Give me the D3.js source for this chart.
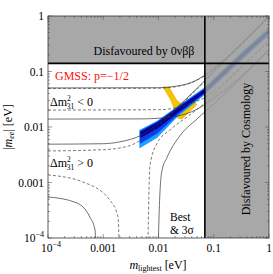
<!DOCTYPE html>
<html>
<head>
<meta charset="utf-8">
<script src="https://cdn.jsdelivr.net/npm/d3@7"></script>
<style>
  body { margin: 0; background: #fff; }
  svg { display: block; }
</style>
</head>
<body>
<main></main>
<script>
var w = 273;
var h = 274;

// axis ticks
var xTicks = [1e-4, 1e-3, 1e-2, 1e-1, 1];
var yTicks = [1e-4, 1e-3, 1e-2, 1e-1, 1];
var tickLabels = ["10|-4", "0.001", "0.01", "0.1", "1"];

// bounds (eV)
var bound0nbb = 0.14;
var boundCosmo = 0.069;

// normal ordering curves [m_lightest, |m_ee|]
var noUpper3s = [[1e-4,0.0049],[0.001,0.0050],[0.002,0.0054],[0.005,0.0072],[0.01,0.0115],[0.02,0.021],[0.05,0.050],[0.1,0.099],[1,0.99]];
var noUpperBest = [[1e-4,0.0037],[0.001,0.0039],[0.003,0.0046],[0.005,0.0060],[0.01,0.0105],[0.02,0.020],[0.05,0.048],[0.1,0.097],[1,0.97]];
var noLowerBestL = [[1e-4,0.00137],[0.00043,0.00102],[0.00132,0.00048],[0.00185,0.00024],[0.00196,0.00005]];
var noLower3sL = [[1e-4,0.00055],[0.00033,0.00043],[0.00057,0.00024],[0.00071,0.00014],[0.00074,0.00005]];
var noLowerBestR = [[0.0064,0.00005],[0.0066,0.0003],[0.0070,0.0020],[0.0093,0.0050],[0.016,0.0088],[0.037,0.0165],[0.069,0.027],[0.2,0.075],[1,0.36]];
var noLower3sR = [[0.0098,0.00005],[0.0104,0.0004],[0.0115,0.0016],[0.0142,0.0028],[0.024,0.0068],[0.05,0.014],[0.1,0.026],[0.3,0.074],[1,0.25]];

// inverted ordering curves
var ioUpper3s = [[1e-4,0.0505],[0.01,0.051],[0.02,0.054],[0.04,0.064],[0.069,0.086],[0.15,0.16],[0.4,0.40],[1,0.99]];
var ioUpperBest = [[1e-4,0.0495],[0.01,0.050],[0.02,0.053],[0.04,0.063],[0.069,0.084],[0.15,0.155],[0.4,0.39],[1,0.97]];
var ioLowerBest = [[1e-4,0.0202],[0.01,0.0205],[0.02,0.022],[0.04,0.027],[0.069,0.034],[0.15,0.062],[0.4,0.15],[1,0.36]];
var ioLower3s = [[1e-4,0.0139],[0.005,0.014],[0.02,0.0155],[0.05,0.021],[0.1,0.033],[0.3,0.078],[1,0.25]];

// GMSS p=-1/2 prediction
var bandOuter = [[0.0045,0.0088],[0.0095,0.0130],[0.0224,0.0240],[0.069,0.052],[0.3,0.21],[1,0.62],
                 [1,0.45],[0.3,0.15],[0.069,0.038],[0.0224,0.0155],[0.0095,0.0064],[0.0045,0.0041]];
var bandMid = [[0.0046,0.0085],[0.0095,0.0125],[0.0224,0.0232],[0.069,0.050],[0.3,0.2],[1,0.58],
               [1,0.48],[0.3,0.16],[0.069,0.040],[0.0224,0.0166],[0.0095,0.0076],[0.0046,0.0050]];
var bandCore = [[0.0047,0.0082],[0.0095,0.0120],[0.0224,0.0222],[0.069,0.048],[0.3,0.19],[1,0.55],
                [1,0.51],[0.3,0.17],[0.069,0.042],[0.0224,0.0180],[0.0095,0.0093],[0.0047,0.0064]];
var yellowRegion = [[0.01216,0.0526],[0.01542,0.0526],[0.02125,0.0306],[0.0254,0.0262],[0.0455,0.0290],
                    [0.0489,0.0250],[0.0344,0.0180],[0.0268,0.0140],[0.0221,0.0145],[0.0198,0.0200],[0.0168,0.0300]];

var pL = 48, pR = 269, pT = 16, pB = 238;
var serif = "'Liberation Serif', 'Times New Roman', 'DejaVu Serif', serif";

var svg = d3.select("main").append("svg")
  .attr("width", w).attr("height", h)
  .attr("font-family", serif);

var xScale = d3.scaleLog().domain([1e-4, 1]).range([pL, pR]);
var yScale = d3.scaleLog().domain([1e-4, 1]).range([pB, pT]);

svg.append("clipPath").attr("id", "clip")
  .append("rect").attr("x", pL).attr("y", pT)
  .attr("width", pR - pL).attr("height", pB - pT);

var plot = svg.append("g").attr("clip-path", "url(#clip)");

var poly = d3.line()
  .x(function (d) { return xScale(d[0]); })
  .y(function (d) { return yScale(d[1]); });

var curve = d3.line()
  .curve(d3.curveMonotoneX)
  .x(function (d) { return xScale(d[0]); })
  .y(function (d) { return yScale(d[1]); });

// prediction regions
plot.append("path").attr("d", poly(yellowRegion) + "Z")
  .attr("fill", "#f6c400").attr("stroke", "#e8a800").attr("stroke-width", 0.6);
plot.append("path").attr("d", poly(bandOuter) + "Z").attr("fill", "#1ea0ff");
plot.append("path").attr("d", poly(bandMid) + "Z").attr("fill", "#0b3cf0");
plot.append("path").attr("d", poly(bandCore) + "Z").attr("fill", "#000096");

// ordering lines
var solid = [noUpper3s, noLower3sL, noLower3sR, ioUpper3s, ioLower3s];
var dashed = [noUpperBest, noLowerBestL, noLowerBestR, ioUpperBest, ioLowerBest];

solid.forEach(function (s) {
  plot.append("path").attr("d", curve(s))
    .attr("fill", "none").attr("stroke", "#333").attr("stroke-width", 0.7);
});
dashed.forEach(function (s) {
  plot.append("path").attr("d", curve(s))
    .attr("fill", "none").attr("stroke", "#444").attr("stroke-width", 0.7)
    .attr("stroke-dasharray", "3,2");
});

// disfavoured regions
plot.append("rect")
  .attr("x", pL).attr("y", pT)
  .attr("width", xScale(boundCosmo) - pL).attr("height", yScale(bound0nbb) - pT)
  .attr("fill", "#999").attr("fill-opacity", 0.85);
plot.append("rect")
  .attr("x", xScale(boundCosmo)).attr("y", pT)
  .attr("width", pR - xScale(boundCosmo)).attr("height", pB - pT)
  .attr("fill", "#999").attr("fill-opacity", 0.85);

plot.append("line")
  .attr("x1", pL).attr("x2", pR)
  .attr("y1", yScale(bound0nbb)).attr("y2", yScale(bound0nbb))
  .attr("stroke", "#000").attr("stroke-width", 1.6);
plot.append("line")
  .attr("x1", xScale(boundCosmo)).attr("x2", xScale(boundCosmo))
  .attr("y1", pT).attr("y2", pB)
  .attr("stroke", "#000").attr("stroke-width", 1.6);

// AXES (ticks inward on all sides)
var minor = [];
for (var e = -4; e < 0; e++) {
  for (var k = 2; k < 10; k++) minor.push(k * Math.pow(10, e));
}

function ticks(g, isX, pos, dir) {
  var sc = isX ? xScale : yScale;
  xTicks.concat(minor).forEach(function (t, i) {
    var len = i < xTicks.length ? 4 : 2;
    if (isX) {
      g.append("line").attr("x1", sc(t)).attr("x2", sc(t))
        .attr("y1", pos).attr("y2", pos + dir * len);
    } else {
      g.append("line").attr("y1", sc(t)).attr("y2", sc(t))
        .attr("x1", pos).attr("x2", pos + dir * len);
    }
  });
}

var axes = svg.append("g").attr("stroke", "#555").attr("stroke-width", 0.6);
ticks(axes, true, pB, -1);
ticks(axes, true, pT, 1);
ticks(axes, false, pL, 1);
ticks(axes, false, pR, -1);

svg.append("rect")
  .attr("x", pL).attr("y", pT)
  .attr("width", pR - pL).attr("height", pB - pT)
  .attr("fill", "none").attr("stroke", "#333").attr("stroke-width", 0.8);

function label(sel, s) {
  var parts = s.split("|");
  sel.text(parts[0]);
  if (parts[1]) {
    sel.append("tspan").attr("dy", -5).attr("font-size", "8px").text("\u2212" + parts[1].slice(1));
  }
}

xTicks.forEach(function (t, i) {
  var tx = svg.append("text")
    .attr("x", xScale(t) + (i === 0 ? 3 : 0)).attr("y", 252)
    .attr("text-anchor", "middle").attr("font-size", "11.5px");
  label(tx, tickLabels[i]);
});
yTicks.forEach(function (t, i) {
  var ty = svg.append("text")
    .attr("x", 44).attr("y", yScale(t) + 4)
    .attr("text-anchor", "end").attr("font-size", "11.5px");
  label(ty, tickLabels[i]);
});

// axis titles
var xt = svg.append("text").attr("x", 158).attr("y", 269)
  .attr("text-anchor", "middle").attr("font-size", "12px");
xt.append("tspan").attr("font-style", "italic").text("m");
xt.append("tspan").attr("font-size", "8px").attr("dy", 2).text("lightest");
xt.append("tspan").attr("dy", -2).text(" [eV]");

var yt = svg.append("text")
  .attr("transform", "translate(12,127) rotate(-90)")
  .attr("text-anchor", "middle").attr("font-size", "12px");
yt.append("tspan").text("|");
yt.append("tspan").attr("font-style", "italic").text("m");
yt.append("tspan").attr("font-size", "8px").attr("font-style", "italic").attr("dy", 2).text("ee");
yt.append("tspan").attr("dy", -2).text("| [eV]");

// annotations
svg.append("text").attr("x", 144).attr("y", 55)
  .attr("text-anchor", "middle").attr("font-size", "12px")
  .text("Disfavoured by 0\u03bd\u03b2\u03b2");

svg.append("text").attr("x", 55).attr("y", 80)
  .attr("font-size", "12px").attr("fill", "#ff1010")
  .text("GMSS: p=\u22121/2");

function dm(x, y, sign) {
  var t = svg.append("text").attr("x", x).attr("y", y).attr("font-size", "12px");
  t.append("tspan").text("\u0394m");
  t.append("tspan").attr("font-size", "7.5px").attr("dy", -5).text("2");
  t.append("tspan").attr("font-size", "7.5px").attr("dx", -4).attr("dy", 8).text("31");
  t.append("tspan").attr("dy", -3).text(" " + sign + " 0");
}
dm(50, 106, "<");
dm(50, 167, ">");

svg.append("text").attr("x", 170).attr("y", 221).attr("font-size", "11.5px").text("Best");
svg.append("text").attr("x", 170).attr("y", 234).attr("font-size", "11.5px").text("& 3\u03c3");

svg.append("text")
  .attr("transform", "translate(250,149) rotate(-90)")
  .attr("text-anchor", "middle").attr("font-size", "12px")
  .text("Disfavoured by Cosmology");
</script>
</body>
</html>
